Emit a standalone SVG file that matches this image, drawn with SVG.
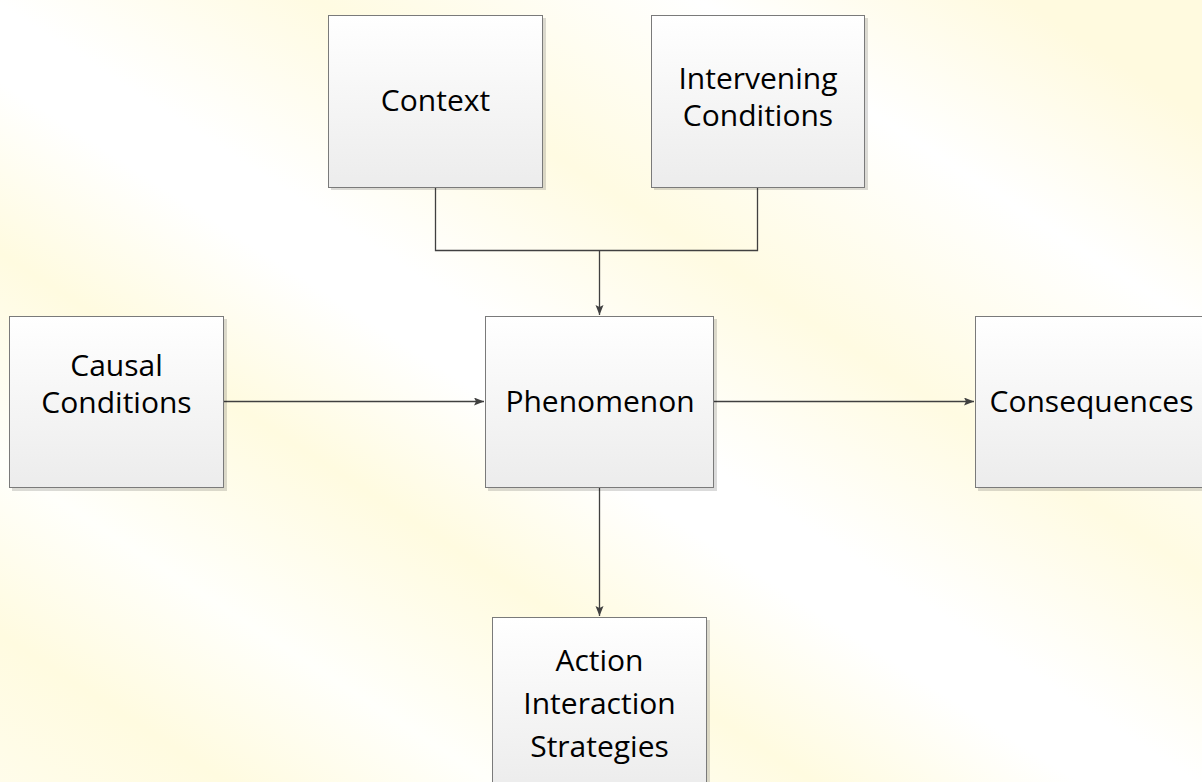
<svg xmlns="http://www.w3.org/2000/svg" width="1202" height="782" viewBox="0 0 1202 782">
  <defs>
    <!-- soft diagonal cream/white banding of the page -->
    <linearGradient id="page" gradientUnits="userSpaceOnUse" x1="381" y1="-587" x2="-490" y2="755">
      <stop offset="0" stop-color="#fffadf"/>
      <stop offset="0.09" stop-color="#fffadf"/>
      <stop offset="0.2" stop-color="#ffffff"/>
      <stop offset="0.33" stop-color="#fffbe2"/>
      <stop offset="0.44" stop-color="#ffffff"/>
      <stop offset="0.48" stop-color="#ffffff"/>
      <stop offset="0.57" stop-color="#fffbe0"/>
      <stop offset="0.68" stop-color="#fffffb"/>
      <stop offset="0.77" stop-color="#fffbe0"/>
      <stop offset="1" stop-color="#ffffff"/>
    </linearGradient>
    <linearGradient id="boxFill" x1="0" y1="0" x2="0" y2="1">
      <stop offset="0" stop-color="#ffffff"/>
      <stop offset="1" stop-color="#ececec"/>
    </linearGradient>
    <marker id="arrow" markerUnits="userSpaceOnUse" markerWidth="12" markerHeight="10" refX="10" refY="4" orient="auto">
      <path d="M0,0 L10,4 L0,8 L2,4 Z" fill="#404040"/>
    </marker>
  </defs>
  <style>
    .box { fill: url(#boxFill); stroke: #7a7a7a; stroke-width: 1; }
    .shadow { fill: #000000; fill-opacity: 0.14; }
    .label { font-family: "Open Sans", "Liberation Sans", sans-serif; font-size: 30px; fill: #000000; text-anchor: middle; }
    .conn { fill: none; stroke: #404040; stroke-width: 1.3; }
  </style>

  <rect x="0" y="0" width="1202" height="782" fill="url(#page)"/>

  <g id="connectors">
    <path class="conn" d="M435.5 187 V250.5 H757.5 V187"/>
    <path class="conn" d="M599.5 250.5 V315" marker-end="url(#arrow)"/>
    <path class="conn" d="M224 401.5 H484" marker-end="url(#arrow)"/>
    <path class="conn" d="M714 401.5 H974" marker-end="url(#arrow)"/>
    <path class="conn" d="M599.5 488 V616" marker-end="url(#arrow)"/>
  </g>

  <g id="context">
    <rect class="shadow" x="331" y="18" width="215" height="172"/>
    <rect class="box" x="328.5" y="15.5" width="214" height="172"/>
    <text class="label" x="435.5" y="111">Context</text>
  </g>

  <g id="intervening-conditions">
    <rect class="shadow" x="654" y="18" width="214" height="172"/>
    <rect class="box" x="651.5" y="15.5" width="213" height="172"/>
    <text class="label" x="758" y="88.5">Intervening</text>
    <text class="label" x="758" y="125.5">Conditions</text>
  </g>

  <g id="causal-conditions">
    <rect class="shadow" x="12" y="319" width="215" height="172"/>
    <rect class="box" x="9.5" y="316.5" width="214" height="171"/>
    <text class="label" x="116.5" y="375.5">Causal</text>
    <text class="label" x="116.5" y="412.5">Conditions</text>
  </g>

  <g id="phenomenon">
    <rect class="shadow" x="488" y="319" width="229" height="172"/>
    <rect class="box" x="485.5" y="316.5" width="228" height="171"/>
    <text class="label" x="600" y="412">Phenomenon</text>
  </g>

  <g id="consequences">
    <rect class="shadow" x="978" y="319" width="233" height="172"/>
    <rect class="box" x="975.5" y="316.5" width="233" height="171"/>
    <text class="label" x="1091.5" y="412">Consequences</text>
  </g>

  <g id="action-interaction-strategies">
    <rect class="shadow" x="495" y="620" width="215" height="172"/>
    <rect class="box" x="492.5" y="617.5" width="214" height="172"/>
    <text class="label" x="599.5" y="671">Action</text>
    <text class="label" x="599.5" y="714">Interaction</text>
    <text class="label" x="599.5" y="757">Strategies</text>
  </g>
</svg>
